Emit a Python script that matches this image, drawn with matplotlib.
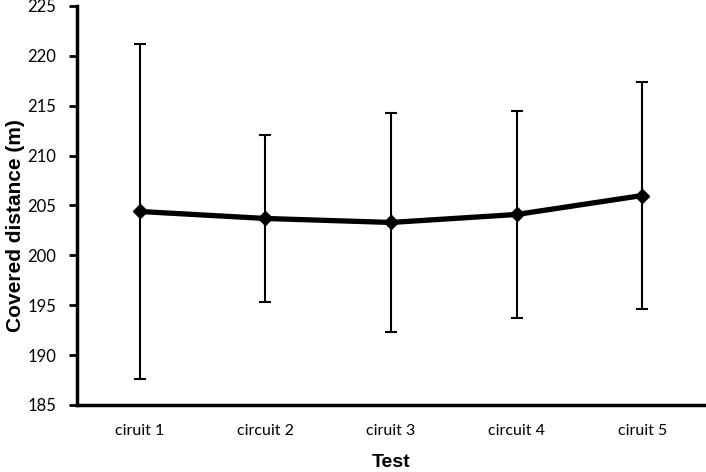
import matplotlib.pyplot as plt

# data
circuits = ['ciruit 1', 'circuit 2', 'ciruit 3', 'circuit 4', 'ciruit 5']
distance = [204.4, 203.7, 203.3, 204.1, 206.0]
sd = [16.75, 8.35, 10.95, 10.4, 11.4]

fig = plt.figure(figsize=(7.06, 4.72), dpi=100)
ax = fig.add_axes([77/706, 1 - 405/472, 628/706, 399/472])

x = list(range(1, len(circuits) + 1))
ax.errorbar(x, distance, yerr=sd, fmt='none', ecolor='black',
            elinewidth=1.5, capsize=4, capthick=1.5, zorder=2)
ax.plot(x, distance, color='black', lw=3.8, marker='D', markersize=7.5, zorder=3)

ax.set_xlim(0.5, 5.5)
ax.set_ylim(185, 225)
ax.set_yticks(range(185, 226, 5))
ax.set_xticks(x)
ax.set_xticklabels(circuits, fontsize=11.5, family='Lato')
for lab in ax.get_yticklabels():
    lab.set_family('Lato')
    lab.set_fontsize(12)

ax.tick_params(axis='x', length=0, pad=14)
ax.tick_params(axis='y', length=6, width=2, pad=9, direction='out')

for s in ['top', 'right']:
    ax.spines[s].set_visible(False)
for s in ['left', 'bottom']:
    ax.spines[s].set_linewidth(2.5)

# y label sits a little below the middle in the reference
ax.set_ylabel('Covered distance (m)', fontsize=15, fontweight='bold',
              family='Liberation Sans', va='center')
ax.yaxis.set_label_coords(-61/628, 0.45)
ax.set_xlabel('Test', fontsize=14, fontweight='bold',
              family='Liberation Sans', labelpad=11)

fig.savefig('out.png', dpi=100)
